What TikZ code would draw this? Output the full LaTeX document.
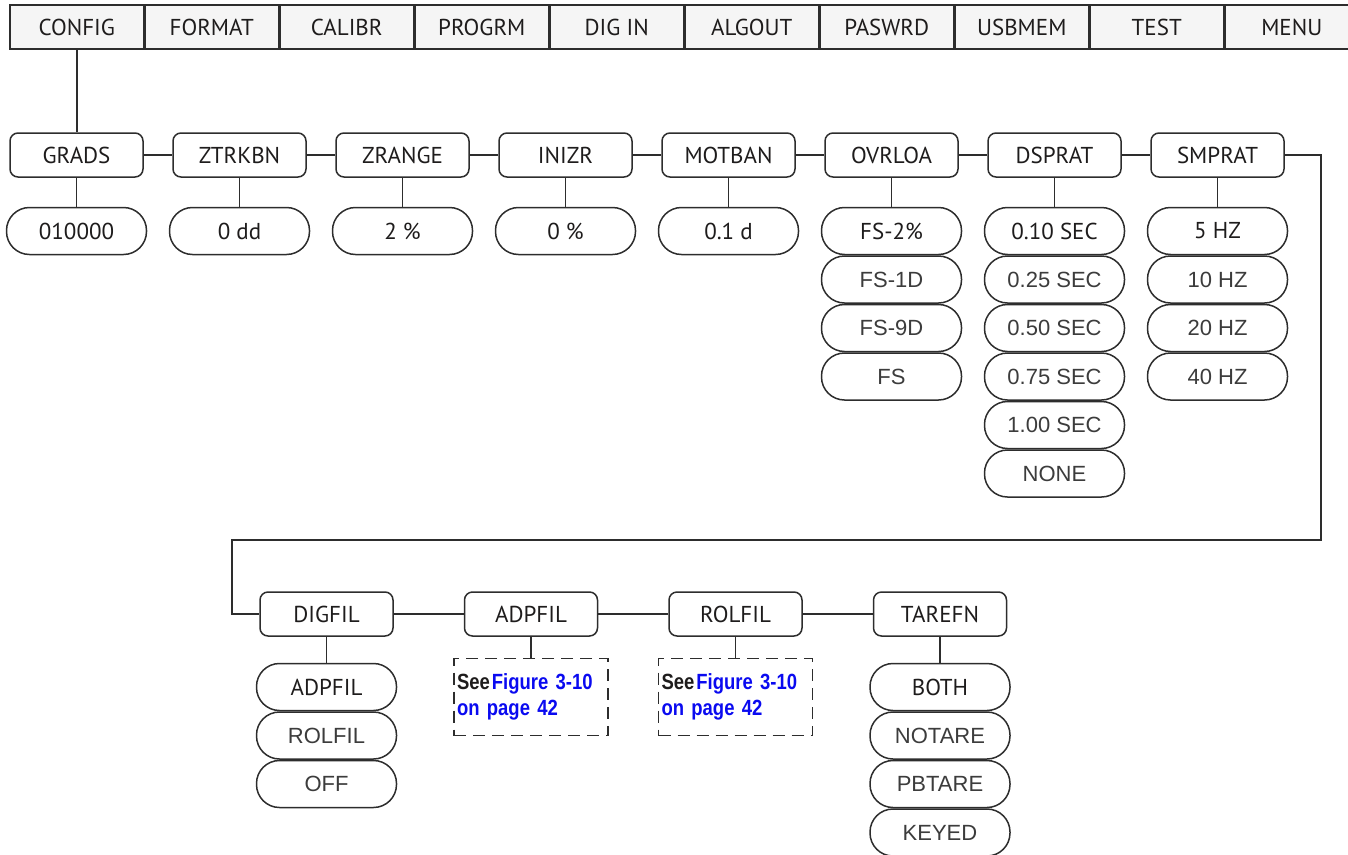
\documentclass[tikz,border=0pt]{standalone}
\usepackage{fontspec}
\setmainfont{PT Sans}
\newfontfamily\lightfont{Liberation Sans}
\newfontfamily\notefont[FakeStretch=0.84]{Liberation Sans}
\usetikzlibrary{positioning}
\definecolor{linegray}{RGB}{45,45,45}
\definecolor{textdark}{RGB}{30,28,28}
\definecolor{textlight}{RGB}{60,60,60}
\definecolor{barfill}{RGB}{245,245,245}
\definecolor{refblue}{RGB}{10,10,240}
\tikzset{
  menubox/.style ={rectangle, draw=linegray, fill=barfill, line width=1.5pt,
                   minimum width=133.5pt, minimum height=44pt, inner sep=0pt},
  parbox/.style  ={rectangle, rounded corners=8pt, draw=linegray, fill=white, line width=1.5pt,
                   minimum width=133pt, minimum height=44pt, inner sep=0pt},
  valpill/.style ={rectangle, rounded corners=23pt, draw=linegray, fill=white, line width=1.5pt,
                   minimum width=140pt, minimum height=47pt, inner sep=0pt},
  optpill/.style ={valpill, font=\lightfont\fontsize{22}{24}\selectfont, text=textlight},
  seebox/.style  ={rectangle, dash pattern=on 12pt off 7pt, draw=linegray, line width=1.5pt,
                   minimum width=154pt, minimum height=77pt, text width=148pt, align=left,
                   inner sep=3pt, font=\notefont\bfseries\fontsize{22}{26}\selectfont},
  link/.style    ={draw=linegray, line width=1.5pt}
}

\begin{document}
\begin{tikzpicture}[x=1pt, y=-1pt, font=\fontsize{23}{25}\selectfont, text=textdark]
\useasboundingbox (0,0) rectangle (1348,854);

% menu bar
\node[menubox] (m1) at (76.75,27) {CONFIG};
\node[menubox, right=0pt of m1] (m2) {FORMAT};
\node[menubox, right=0pt of m2] (m3) {CALIBR};
\node[menubox, right=0pt of m3] (m4) {PROGRM};
\node[menubox, right=0pt of m4] (m5) {DIG IN};
\node[menubox, right=0pt of m5] (m6) {ALGOUT};
\node[menubox, right=0pt of m6] (m7) {PASWRD};
\node[menubox, right=0pt of m7] (m8) {USBMEM};
\node[menubox, right=0pt of m8] (m9) {TEST};
\node[menubox, right=0pt of m9] (m10) {MENU};

% first parameter row
\node[parbox] (a) at (76.5,155) {GRADS};
\node[parbox, right=28.5pt of a] (b) {ZTRKBN};
\node[parbox, right=28.5pt of b] (c) {ZRANGE};
\node[parbox, right=28.5pt of c] (d) {INIZR};
\node[parbox, right=28.5pt of d] (e) {MOTBAN};
\node[parbox, right=28.5pt of e] (f) {OVRLOA};
\node[parbox, right=28.5pt of f] (g) {DSPRAT};
\node[parbox, right=28.5pt of g] (h) {SMPRAT};

\node[valpill, below=29pt of a] (a1) {010000};
\node[valpill, below=29pt of b] (b1) {0 dd};
\node[valpill, below=29pt of c] (c1) {2 \%};
\node[valpill, below=29pt of d] (d1) {0 \%};
\node[valpill, below=29pt of e] (e1) {0.1 d};

\node[valpill, below=29pt of f] (f1) {FS-2\%};
\node[optpill, below=0pt of f1] (f2) {FS-1D};
\node[optpill, below=0pt of f2] (f3) {FS-9D};
\node[optpill, below=0pt of f3] (f4) {FS};

\node[valpill, below=29pt of g] (g1) {0.10 SEC};
\node[optpill, below=0pt of g1] (g2) {0.25 SEC};
\node[optpill, below=0pt of g2] (g3) {0.50 SEC};
\node[optpill, below=0pt of g3] (g4) {0.75 SEC};
\node[optpill, below=0pt of g4] (g5) {1.00 SEC};
\node[optpill, below=0pt of g5] (g6) {NONE};

\node[valpill, below=29pt of h] (h1) {5 HZ};
\node[optpill, below=0pt of h1] (h2) {10 HZ};
\node[optpill, below=0pt of h2] (h3) {20 HZ};
\node[optpill, below=0pt of h3] (h4) {40 HZ};

% second parameter row
\node[parbox] (i) at (326.5,614) {DIGFIL};
\node[parbox, right=70pt of i] (j) {ADPFIL};
\node[parbox, right=70pt of j] (k) {ROLFIL};
\node[parbox, right=70pt of k] (l) {TAREFN};

\node[valpill, below=26pt of i] (i1) {ADPFIL};
\node[optpill, below=0pt of i1] (i2) {ROLFIL};
\node[optpill, below=0pt of i2] (i3) {OFF};

\node[seebox, below=21pt of j] (j1) {See\hspace{2pt}\color{refblue}Figure 3-10\\on page 42};
\node[seebox, below=21pt of k] (k1) {See\hspace{2pt}\color{refblue}Figure 3-10\\on page 42};

\node[valpill, below=26pt of l] (l1) {BOTH};
\node[optpill, below=0pt of l1] (l2) {NOTARE};
\node[optpill, below=0pt of l2] (l3) {PBTARE};
\node[optpill, below=0pt of l3] (l4) {KEYED};

\coordinate (r1) at (1321,540);
\coordinate (r2) at (232,540);

\draw[link] (m1.south) -- (m1.south |- a.north);
\draw[link] (a) -- (b);
\draw[link] (b) -- (c);
\draw[link] (c) -- (d);
\draw[link] (d) -- (e);
\draw[link] (e) -- (f);
\draw[link] (f) -- (g);
\draw[link] (g) -- (h);
\draw[link] (a) -- (a1);
\draw[link] (b) -- (b1);
\draw[link] (c) -- (c1);
\draw[link] (d) -- (d1);
\draw[link] (e) -- (e1);
\draw[link] (f) -- (f1);
\draw[link] (g) -- (g1);
\draw[link] (h) -- (h1);
\draw[link] (h.east) -| (r1) -- (r2) |- (i.west);
\draw[link] (i) -- (j);
\draw[link] (j) -- (k);
\draw[link] (k) -- (l);
\draw[link] (i) -- (i1);
\draw[link] (j) -- (j1);
\draw[link] (k) -- (k1);
\draw[link] (l) -- (l1);
\end{tikzpicture}
\end{document}
